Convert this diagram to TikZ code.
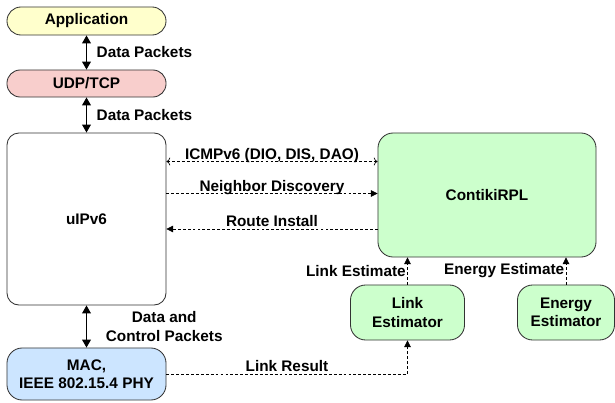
\documentclass[tikz,border=0pt]{standalone}
\usepackage{fontspec}
\setmainfont{Liberation Sans}
\usetikzlibrary{arrows.meta,positioning}

\definecolor{appyellow}{HTML}{FFFFCC}
\definecolor{udppink}{HTML}{F8CECC}
\definecolor{macblue}{HTML}{CCE5FF}
\definecolor{rplgreen}{HTML}{CCFFCC}

\tikzset{
	layer/.style = {draw=black!80, line width=.6pt, align=center, inner sep=0pt},
	datalink/.style = {{Triangle[length=.2cm,width=.22cm]}-{Triangle[length=.2cm,width=.22cm]}, line width=.9pt},
	sigflow/.style = {-{Triangle[length=.17cm,width=.17cm]}, line width=.5pt, dash pattern=on 2pt off 1.5pt},
	siglabel/.style = {above, text depth=0pt, inner sep=1.5pt}
}

\begin{document}
\begin{tikzpicture}[x = .025cm, y = .025cm, font=\fontsize{10.9}{13}\selectfont\bfseries]
	\useasboundingbox (0,0) rectangle (615,402);
	% protocol stack
	\node[layer, fill=appyellow, rounded corners=.35cm, minimum width=3.975cm, minimum height=.7cm] (app) at (86.5,381) {Application};
	\node[layer, fill=udppink, rounded corners=.33cm, minimum width=3.975cm, minimum height=.675cm] (udp) at (86.5,318.5) {UDP/TCP};
	\node[layer, fill=white, rounded corners=.3cm, minimum width=3.975cm, minimum height=4.3cm] (uip) at (86.5,183) {uIPv6};
	\node[layer, fill=macblue, rounded corners=.38cm, minimum width=3.975cm, minimum height=1.3cm] (mac) at (86.5,28) {MAC,\\IEEE 802.15.4 PHY};
	% routing side
	\node[layer, fill=rplgreen, rounded corners=.38cm, minimum width=5.45cm, minimum height=3.1cm] (rpl) at (487,207) {ContikiRPL};
	\node[layer, fill=rplgreen, rounded corners=.38cm, minimum width=2.85cm, minimum height=1.375cm] (lest) at (407.5,89.5) {Link\\Estimator};
	\node[layer, fill=rplgreen, rounded corners=.38cm, minimum width=2.425cm, minimum height=1.375cm] (eest) at (566,89.5) {Energy\\Estimator};

	\draw[datalink] (app) -- (udp) node[midway, right=3.5pt] {Data Packets};
	\draw[datalink] (udp) -- (uip) node[midway, right=3.5pt] {Data Packets};
	\draw[datalink] (uip) -- (mac) node[midway, right=10pt, align=center] {Data and\\Control Packets};

	\draw[sigflow, <->] (uip.east |- 0,240.5) -- (rpl.west |- 0,240.5) node[midway, siglabel] {ICMPv6 (DIO, DIS, DAO)};
	\draw[sigflow] (uip.east |- 0,208.5) -- (rpl.west |- 0,208.5) node[midway, siglabel] {Neighbor Discovery};
	\draw[sigflow] (rpl.west |- 0,173) -- (uip.east |- 0,173) node[midway, siglabel] {Route Install};

	\draw[sigflow] (lest.north) -- (lest.north |- rpl.south) node[midway, left, inner sep=1pt] {Link Estimate};
	\draw[sigflow] (eest.north) -- (eest.north |- rpl.south) node[midway, left, inner sep=1pt] {Energy Estimate};
	\draw[sigflow] (mac.east) -| (lest.south) node[pos=.25, siglabel] {Link Result};
\end{tikzpicture}
\end{document}
